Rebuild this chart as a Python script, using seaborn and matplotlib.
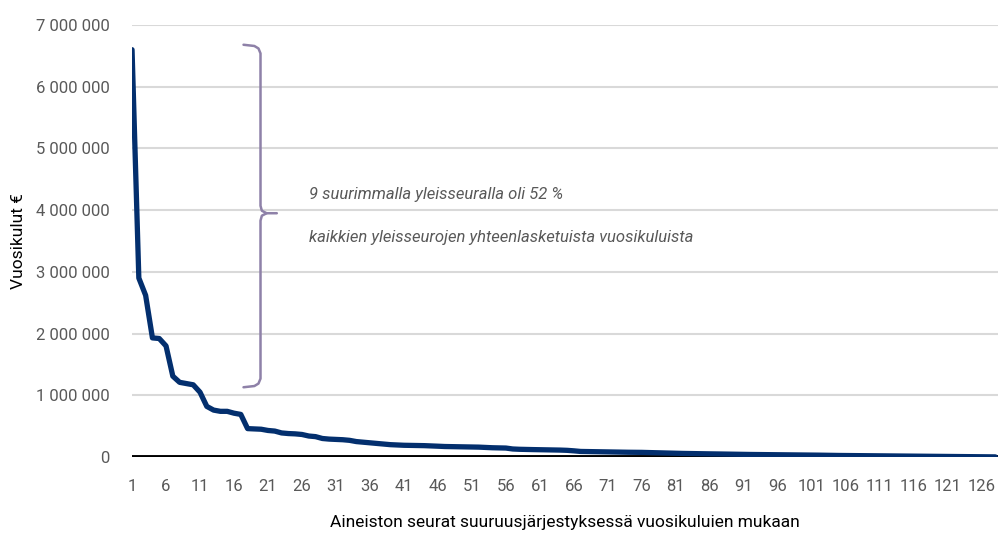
import matplotlib
matplotlib.use("Agg")
import matplotlib.pyplot as plt
import seaborn as sns
import pandas as pd
from matplotlib.ticker import FuncFormatter

sns.set_theme(style="white")
plt.rcParams["font.family"] = ["Roboto", "DejaVu Sans"]

# Vuosikulut (€) seuroittain, suuruusjärjestyksessä
costs = [
    6600000, 2900000, 2620000, 1930000, 1920000, 1800000, 1310000, 1210000,
    1190000, 1170000, 1050000, 820000, 760000, 740000, 740000, 710000,
    690000, 460000, 455000, 450000, 430000, 420000, 390000, 380000,
    375000, 365000, 340000, 330000, 300000, 290000, 285000, 280000,
    270000, 250000, 240000, 230000, 220000, 210000, 200000, 195000,
    190000, 188000, 186000, 184000, 180000, 175000, 170000, 168000,
    166000, 164000, 162000, 160000, 155000, 150000, 148000, 145000,
    130000, 125000, 122000, 120000, 118000, 116000, 114000, 112000,
    108000, 100000, 90000, 88000, 86000, 84000, 82000, 80000,
    78000, 77000, 76000, 75000, 72000, 70000, 67000, 64000,
    60000, 58000, 56000, 55000, 53000, 51000, 50000, 48000,
    46000, 44000, 42000, 41000, 40000, 39000, 38000, 36000,
    35000, 34000, 33000, 32000, 31000, 30000, 28000, 26000,
    25000, 24000, 23000, 22000, 21000, 20000, 19000, 18000,
    17000, 16000, 15000, 14000, 13000, 12000, 11000, 10000,
    9000, 8000, 7000, 6000, 5000, 4000, 3000, 2000,
]
rank = list(range(1, len(costs) + 1))
x_ticks = list(range(1, 127, 5))
y_ticks = [0, 1000000, 2000000, 3000000, 4000000, 5000000, 6000000, 7000000]

note_lines = [
    "9 suurimmalla yleisseuralla oli 52 %",
    "kaikkien yleisseurojen yhteenlasketuista vuosikuluista",
]

df = pd.DataFrame({"rank": rank, "cost": costs})

fig = plt.figure(figsize=(9.98, 5.4), dpi=100)
ax = fig.add_axes([0.1323, 0.1537, 0.8677, 0.8])

# gridlines
for v in y_ticks[1:]:
    ax.axhline(v, color="#d9d9d9", lw=1.5, zorder=0)

sns.lineplot(data=df, x="rank", y="cost", ax=ax, color="#032f6e", lw=3.8,
             zorder=3, solid_joinstyle="round", solid_capstyle="round")
ax.axhline(0, color="black", lw=2.8, zorder=2)

ax.set_xlim(1, 128.4)
ax.set_ylim(0, 7000000)
ax.set_xticks(x_ticks)
ax.set_yticks(y_ticks)
ax.yaxis.set_major_formatter(
    FuncFormatter(lambda v, p: f"{int(v):,}".replace(",", " ")))
ax.tick_params(axis="both", length=0, labelsize=12, colors="#595959")
ax.tick_params(axis="x", pad=16)
ax.tick_params(axis="y", pad=16)
for s in ax.spines.values():
    s.set_visible(False)

ax.set_xlabel("Aineiston seurat suuruusjärjestyksessä vuosikuluien mukaan",
              fontsize=12.5, color="black", labelpad=15)
ax.set_ylabel("Vuosikulut €", fontsize=12.5, color="black", labelpad=7)

# kaarisulku yhdeksän suurimman kohdalle
bc = "#8e81a8"
ax.plot([17.4, 19.0, 19.6, 19.9, 19.9, 20.1, 20.8, 22.3],
        [6680000, 6660000, 6620000, 6540000, 4070000, 3990000, 3950000,
         3950000],
        color=bc, lw=1.8, solid_capstyle="round", solid_joinstyle="round")
ax.plot([17.4, 19.0, 19.6, 19.9, 19.9, 20.1, 20.8],
        [1130000, 1150000, 1190000, 1270000, 3830000, 3910000, 3950000],
        color=bc, lw=1.8, solid_capstyle="round", solid_joinstyle="round")

ax.text(27, 4250000, note_lines[0], fontsize=12, style="italic",
        color="#595959", va="center")
ax.text(27, 3550000, note_lines[1], fontsize=12, style="italic",
        color="#595959", va="center")

fig.savefig("out.png", dpi=100)
